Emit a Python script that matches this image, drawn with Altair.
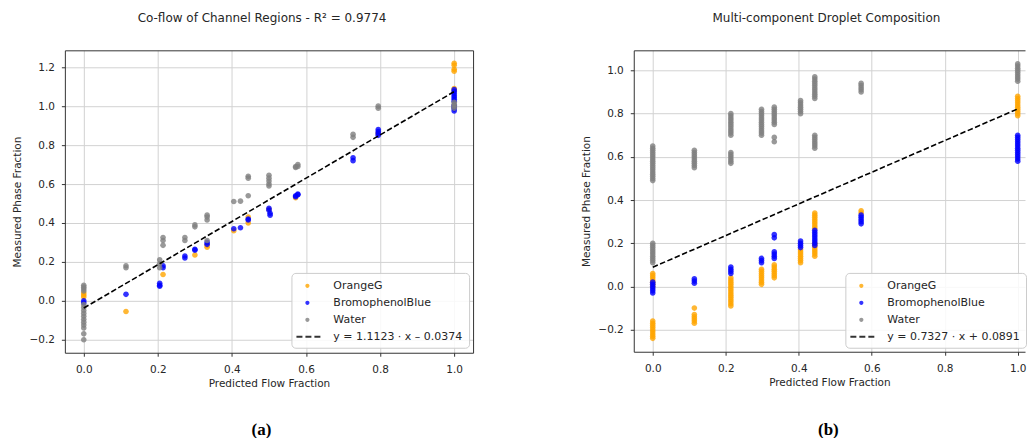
import altair as alt
import pandas as pd

# ---------------- data : panel (a) ----------------
a_orange_x = [0, 0, 0, 0.114, 0.214, 0.3, 0.333, 0.333, 0.405, 0.444, 0.444, 0.5, 0.572, 0.795,
              1.0, 1.0, 1.0, 1.0, 1.0, 1.0]
a_orange_y = [0.04, 0.03, 0.02, -0.055, 0.135, 0.235, 0.275, 0.285, 0.36, 0.43, 0.40, 0.47, 0.53, 0.86,
              1.22, 1.21, 1.19, 1.18, 1.09, 1.08]

a_blue_x = [0, 0, 0.114, 0.205, 0.205, 0.205, 0.214, 0.214, 0.273, 0.273, 0.3, 0.3, 0.333, 0.333,
            0.405, 0.423, 0.444, 0.444, 0.5, 0.5, 0.503, 0.503, 0.572, 0.572, 0.578, 0.578,
            0.727, 0.727, 0.795, 0.795, 0.795, 0.795,
            1.0, 1.0, 1.0, 1.0, 1.0, 1.0, 1.0, 1.0, 1.0, 1.0, 1.0]
a_blue_y = [0.0, -0.01, 0.033, 0.09, 0.08, 0.075, 0.18, 0.17, 0.23, 0.22, 0.26, 0.265, 0.30, 0.29,
            0.37, 0.375, 0.42, 0.415, 0.475, 0.465, 0.45, 0.44, 0.54, 0.535, 0.548, 0.545,
            0.735, 0.72, 0.88, 0.87, 0.86, 0.85,
            1.085, 1.075, 1.065, 1.055, 1.045, 1.035, 1.025, 1.005, 0.995, 0.985, 0.975]

a_water_x = [0, 0, 0, 0, 0, 0, 0, 0, 0, 0, 0, 0, 0, 0, 0,
             0.114, 0.114, 0.205, 0.205, 0.205, 0.214, 0.214, 0.214, 0.273, 0.273, 0.3, 0.3,
             0.333, 0.333, 0.333, 0.333, 0.405, 0.423, 0.444, 0.444, 0.444,
             0.5, 0.5, 0.5, 0.5, 0.5, 0.572, 0.572, 0.578, 0.578, 0.727, 0.727, 0.795, 0.795,
             1.0, 1.0, 1.0, 1.0]
a_water_y = [0.08, 0.07, 0.06, 0.05, -0.02, -0.035, -0.05, -0.065, -0.08, -0.095, -0.11, -0.125, -0.14,
             -0.17, -0.2,
             0.18, 0.17, 0.21, 0.19, 0.17, 0.325, 0.31, 0.285, 0.325, 0.31, 0.39, 0.38,
             0.44, 0.43, 0.415, 0.31, 0.51, 0.512, 0.64, 0.63, 0.54,
             0.645, 0.63, 0.615, 0.60, 0.59, 0.69, 0.685, 0.70, 0.69, 0.855, 0.84, 1.0, 0.99,
             1.02, 1.01, 1.0, 0.99]

a_fit_x = [0.0, 1.0]
a_fit_y = [-0.0374, 1.0749]
a_fit_label = "y = 1.1123 · x – 0.0374"

# ---------------- data : panel (b) ----------------
b_orange_x = ([0] * 16 + [0.114] * 6 + [0.214] * 14 + [0.298] * 8 + [0.333] * 7 + [0.405] * 7 +
              [0.444] * 15 + [0.571] * 2 + [1.0] * 10)
b_orange_y = [0.06, 0.05, 0.04, 0.03, 0.02, 0.01, 0.0, -0.16, -0.17, -0.18, -0.19, -0.20, -0.21, -0.22, -0.23, -0.24,
              -0.10, -0.13, -0.14, -0.15, -0.16, -0.17,
              0.04, 0.03, 0.02, 0.01, 0.0, -0.01, -0.02, -0.03, -0.04, -0.05, -0.06, -0.07, -0.08, -0.09,
              0.08, 0.07, 0.06, 0.05, 0.04, 0.03, 0.02, 0.01,
              0.10, 0.09, 0.08, 0.07, 0.06, 0.05, 0.04,
              0.17, 0.16, 0.15, 0.14, 0.13, 0.12, 0.11,
              0.34, 0.33, 0.32, 0.31, 0.30, 0.29, 0.28, 0.27, 0.20, 0.19, 0.18, 0.17, 0.16, 0.15, 0.14,
              0.35, 0.34,
              0.88, 0.87, 0.86, 0.85, 0.84, 0.83, 0.82, 0.81, 0.80, 0.79]

b_blue_x = ([0] * 6 + [0.114] * 3 + [0.214] * 4 + [0.298] * 3 + [0.333] * 6 + [0.405] * 4 +
            [0.444] * 8 + [0.571] * 5 + [1.0] * 13)
b_blue_y = [0.02, 0.01, 0.0, -0.01, -0.02, -0.03,
            0.035, 0.025, 0.015,
            0.09, 0.08, 0.07, 0.06,
            0.13, 0.12, 0.11,
            0.24, 0.225, 0.16, 0.15, 0.14, 0.13,
            0.21, 0.20, 0.19, 0.18,
            0.26, 0.25, 0.24, 0.23, 0.22, 0.21, 0.20, 0.19,
            0.33, 0.32, 0.31, 0.30, 0.29,
            0.70, 0.69, 0.68, 0.67, 0.66, 0.65, 0.64, 0.63, 0.62, 0.61, 0.60, 0.59, 0.58]

b_water_x = ([0] * 27 + [0.114] * 9 + [0.214] * 17 + [0.298] * 13 + [0.333] * 11 + [0.405] * 7 +
             [0.444] * 18 + [0.571] * 5 + [1.0] * 9)
b_water_y = [0.65, 0.64, 0.63, 0.62, 0.61, 0.60, 0.59, 0.58, 0.57, 0.56, 0.55, 0.54, 0.53, 0.52, 0.51, 0.50, 0.49,
             0.20, 0.19, 0.18, 0.17, 0.16, 0.15, 0.14, 0.13, 0.12, 0.11,
             0.63, 0.62, 0.61, 0.60, 0.59, 0.58, 0.57, 0.56, 0.55,
             0.80, 0.79, 0.78, 0.77, 0.76, 0.75, 0.74, 0.73, 0.72, 0.71, 0.70,
             0.62, 0.61, 0.60, 0.59, 0.58, 0.57,
             0.82, 0.81, 0.80, 0.79, 0.78, 0.77, 0.76, 0.75, 0.74, 0.73, 0.72, 0.71, 0.70,
             0.83, 0.82, 0.81, 0.80, 0.79, 0.78, 0.77, 0.76, 0.75, 0.69, 0.67,
             0.86, 0.85, 0.84, 0.83, 0.82, 0.81, 0.80,
             0.97, 0.96, 0.95, 0.94, 0.93, 0.92, 0.91, 0.90, 0.89, 0.88, 0.87,
             0.70, 0.69, 0.68, 0.67, 0.66, 0.65, 0.64,
             0.94, 0.93, 0.92, 0.91, 0.90,
             1.03, 1.02, 1.01, 1.00, 0.99, 0.98, 0.97, 0.96, 0.95]

b_fit_x = [0.0, 1.0]
b_fit_y = [0.0891, 0.8218]
b_fit_label = "y = 0.7327 · x + 0.0891"

SERIES = ["OrangeG", "BromophenolBlue", "Water"]
COLORS = ["#FFA500", "#0000FF", "#808080", "#000000"]

X_TICKS = [0.0, 0.2, 0.4, 0.6, 0.8, 1.0]
A_Y_TICKS = [-0.2, 0.0, 0.2, 0.4, 0.6, 0.8, 1.0, 1.2]
B_Y_TICKS = [-0.2, 0.0, 0.2, 0.4, 0.6, 0.8, 1.0]

# symbol paths (unit space) : small dot, and three dashes for the fit line legend entry
DOT = "M0.35,0A0.35,0.35,0,1,1,-0.35,0A0.35,0.35,0,1,1,0.35,0Z"
DASH = ("M-1.83,-0.17H-0.83V0.17H-1.83Z M-0.33,-0.17H0.67V0.17H-0.33Z "
        "M1.17,-0.17H2.17V0.17H1.17Z")

FONT = "DejaVu Sans"
TXT = "#262626"


def points_df(ox, oy, bx, by, wx, wy):
    rows = []
    for name, xs, ys in ((SERIES[0], ox, oy), (SERIES[1], bx, by), (SERIES[2], wx, wy)):
        for x, y in zip(xs, ys):
            rows.append({"x": x, "y": y, "series": name})
    return pd.DataFrame(rows)


def panel(pts, fit_x, fit_y, fit_label, title, caption, xdom, ydom, yticks, w, h, title_dx,
          cap_x, leg_x, right_frame):
    domain = SERIES + [fit_label]
    leg = alt.Legend(title=None, orient="none", legendX=leg_x, legendY=223,
                     symbolSize=144, symbolOffset=3, labelOffset=19, rowPadding=5,
                     padding=6, labelFontSize=11, labelFont=FONT, labelColor=TXT,
                     fillColor="rgba(255,255,255,0.85)", strokeColor="#cccccc",
                     cornerRadius=4)
    xs = alt.Scale(domain=xdom, nice=False, zero=False)
    ys = alt.Scale(domain=ydom, nice=False, zero=False)
    points = alt.Chart(pts).mark_point(filled=True, size=260, opacity=0.8).encode(
        x=alt.X("x:Q", scale=xs,
                axis=alt.Axis(values=X_TICKS, format=".1f", title="Predicted Flow Fraction",
                              labelPadding=8, titlePadding=4, grid=True)),
        y=alt.Y("y:Q", scale=ys,
                axis=alt.Axis(values=yticks, format=".1f", title="Measured Phase Fraction",
                              labelPadding=7, titlePadding=6, minExtent=36, maxExtent=36,
                              grid=True)),
        color=alt.Color("series:N", scale=alt.Scale(domain=domain, range=COLORS), legend=leg),
        shape=alt.Shape("series:N", scale=alt.Scale(domain=domain, range=[DOT, DOT, DOT, DASH]),
                        legend=leg),
    )
    fit = alt.Chart(pd.DataFrame({"x": fit_x, "y": fit_y})).mark_line(
        color="black", strokeWidth=1.6, strokeDash=[5.5, 2.5]).encode(
        x=alt.X("x:Q", scale=xs,
                axis=alt.Axis(orient="top", labels=False, ticks=False, grid=False, title=None,
                              domain=True)),
        y=alt.Y("y:Q", scale=ys,
                axis=(alt.Axis(orient="right", labels=False, ticks=False, grid=False, title=None,
                               domain=True) if right_frame else None)),
    )
    cap = alt.Chart(pd.DataFrame({"t": [caption]})).mark_text(
        font="Liberation Serif", fontSize=17, fontWeight="bold", color="black").encode(
        x=alt.value(cap_x), y=alt.value(380), text="t:N")
    return alt.layer(points, fit, cap).resolve_axis(x="independent", y="independent").properties(
        width=w, height=h,
        title=alt.TitleParams(title, anchor="middle", dx=title_dx, offset=25, fontSize=12,
                              font=FONT, fontWeight="normal", color=TXT))


left = panel(points_df(a_orange_x, a_orange_y, a_blue_x, a_blue_y, a_water_x, a_water_y),
             a_fit_x, a_fit_y, a_fit_label, "Co-flow of Channel Regions - R² = 0.9774", "(a)",
             [-0.051, 1.051], [-0.267, 1.287], A_Y_TICKS, 409, 303, -7, 197, 227, True)
right = panel(points_df(b_orange_x, b_orange_y, b_blue_x, b_blue_y, b_water_x, b_water_y),
              b_fit_x, b_fit_y, b_fit_label, "Multi-component Droplet Composition", "(b)",
              [-0.052, 1.02], [-0.302, 1.093], B_Y_TICKS, 392, 302, -3, 195, 212, False)

chart = alt.hconcat(left, right, spacing=161, bounds="flush").resolve_scale(
    color="independent", shape="independent").properties(
    padding={"left": 13, "top": 12, "right": 0, "bottom": 0}
).configure_view(stroke=None).configure_axis(
    labelFont=FONT, labelFontSize=10.5, labelColor=TXT,
    titleFont=FONT, titleFontSize=10.5, titleFontWeight="normal", titleColor=TXT,
    gridColor="#d2d2d2", gridWidth=1, tickColor="#333333", tickSize=3.5,
    domainColor="#333333", domainWidth=1
)

chart.save("out.html", embed_options={"renderer": "svg", "actions": False})
